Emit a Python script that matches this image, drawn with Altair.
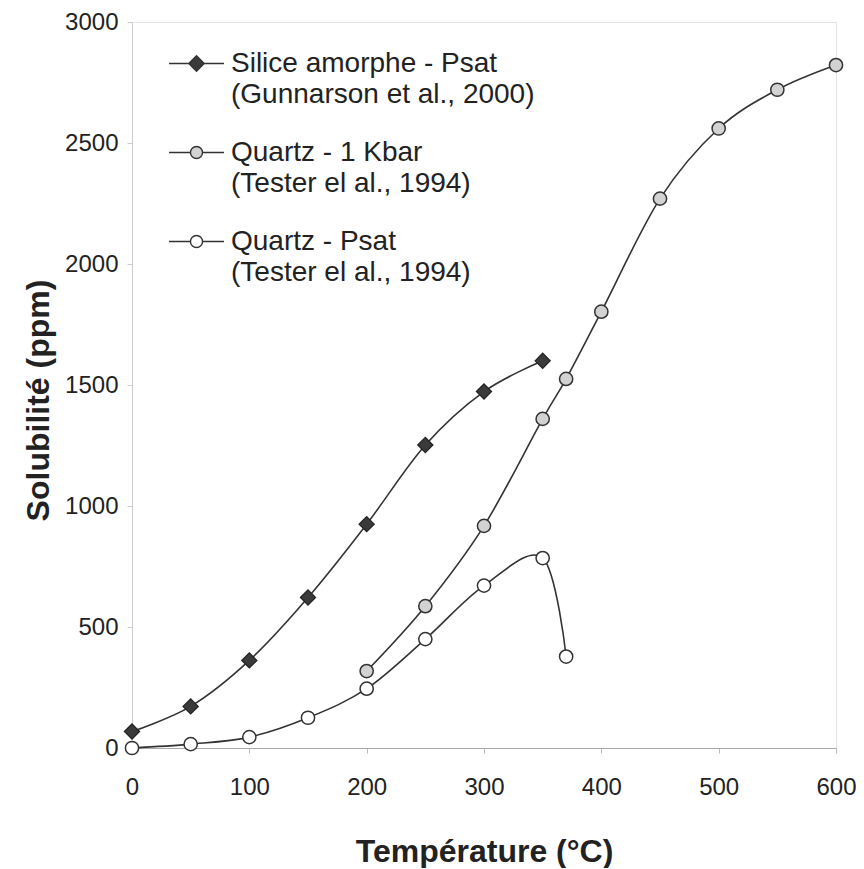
import altair as alt
import pandas as pd

series_names = ["Silice amorphe - Psat", "Quartz - 1 Kbar", "Quartz - Psat"]
series_refs = ["(Gunnarson et al., 2000)", "(Tester el al., 1994)", "(Tester el al., 1994)"]

silice_T = [0, 50, 100, 150, 200, 250, 300, 350]
silice_S = [68, 172, 362, 622, 925, 1252, 1473, 1600]

q1kbar_T = [200, 250, 300, 350, 370, 400, 450, 500, 550, 600]
q1kbar_S = [318, 586, 918, 1360, 1525, 1803, 2270, 2560, 2720, 2822]

qpsat_T = [0, 50, 100, 150, 200, 250, 300, 350, 370]
qpsat_S = [0, 16, 45, 125, 245, 450, 671, 785, 378]

x_ticks = [0, 100, 200, 300, 400, 500, 600]
y_ticks = [0, 500, 1000, 1500, 2000, 2500, 3000]

rows = []
for name, ts, ss in zip(series_names, [silice_T, q1kbar_T, qpsat_T], [silice_S, q1kbar_S, qpsat_S]):
    for t, s in zip(ts, ss):
        rows.append({"series": name, "T": t, "S": s})
df = pd.DataFrame(rows)

FONT = "Liberation Sans"
LINE = "#333333"
fills = ["#3a3a3a", "#d2d2d2", "#ffffff"]

xenc = alt.X("T:Q", scale=alt.Scale(domain=[0, 600], nice=False),
             axis=alt.Axis(values=x_ticks, title="Température (°C)", grid=False, format="d",
                           labelFontSize=24, labelFont=FONT, labelColor="#222", labelFlush=False,
                           titleFontSize=32, titleFont=FONT, titleFontWeight="bold",
                           titleColor="#222", titleY=103, titleBaseline="middle",
                           tickSize=5, tickColor="#bbbbbb", domainColor="#aaaaaa",
                           labelPadding=22))
yenc = alt.Y("S:Q", scale=alt.Scale(domain=[0, 3000], nice=False),
             axis=alt.Axis(values=y_ticks, title="Solubilité (ppm)", grid=False, format="d",
                           labelFontSize=24, labelFont=FONT, labelColor="#222", labelFlush=False,
                           titleFontSize=32, titleFont=FONT, titleFontWeight="bold",
                           titleColor="#222", titleX=-94, titleY=378,
                           titleBaseline="middle", titleAlign="center",
                           tickSize=5, tickColor="#cccccc", domainColor="#cccccc",
                           labelPadding=9))

base = alt.Chart(df)

lines = base.mark_line(interpolate="cardinal", color=LINE, strokeWidth=1.6).encode(
    x=xenc, y=yenc, detail="series:N")

pt_diamond = base.transform_filter(alt.datum.series == series_names[0]).mark_point(
    shape="diamond", filled=True, fill=fills[0], stroke="#222", strokeWidth=1.2,
    size=230, opacity=1).encode(x=xenc, y=yenc)
pt_gray = base.transform_filter(alt.datum.series == series_names[1]).mark_point(
    shape="circle", filled=True, fill=fills[1], stroke="#333", strokeWidth=1.5,
    size=175, opacity=1).encode(x=xenc, y=yenc)
pt_white = base.transform_filter(alt.datum.series == series_names[2]).mark_point(
    shape="circle", filled=True, fill=fills[2], stroke="#333", strokeWidth=1.5,
    size=175, opacity=1).encode(x=xenc, y=yenc)

stub = "M-1,0L-0.24,0M0.24,0L1,0"
diamond_path = stub + "M-0.28,0L0,-0.28L0.28,0L0,0.28Z"
circle_path = stub + "M-0.22,0A0.22,0.22,0,1,0,0.22,0A0.22,0.22,0,1,0,-0.22,0Z"
legend_shapes = [diamond_path, circle_path, circle_path]

label_expr = " : ".join(
    f"datum.label == '{n}' ? ['{n}', '{r}']" for n, r in zip(series_names[:-1], series_refs[:-1])
) + f" : ['{series_names[-1]}', '{series_refs[-1]}']"

leg = alt.Legend(title=None, orient="none", legendX=36, legendY=13, padding=0,
                 symbolSize=3025, symbolStrokeWidth=1.4, symbolStrokeColor=LINE,
                 labelFontSize=28, labelFont=FONT, labelColor="#222", labelLimit=700,
                 labelOffset=6, rowPadding=15, labelExpr=label_expr, direction="vertical")

legend_layer = base.transform_filter("false").mark_point(
    filled=True, stroke=LINE, strokeWidth=1.4, opacity=1).encode(
    x=xenc, y=yenc,
    shape=alt.Shape("series:N", scale=alt.Scale(domain=series_names, range=legend_shapes), legend=leg),
    fill=alt.Fill("series:N", scale=alt.Scale(domain=series_names, range=fills), legend=leg),
    stroke=alt.Stroke("series:N", scale=alt.Scale(domain=series_names, range=[LINE, LINE, LINE]), legend=leg),
)

chart = alt.layer(lines, pt_diamond, pt_gray, pt_white, legend_layer).properties(
    width=704, height=726,
    autosize=alt.AutoSizeParams(type="none"),
    padding={"left": 124, "top": 14, "right": 20, "bottom": 120},
    background="white",
).configure(style={"guide-label": {"lineHeight": 31}}).configure_view(stroke="#e4e4e4")

chart.save("out.html", embed_options={"renderer": "svg", "actions": False})
